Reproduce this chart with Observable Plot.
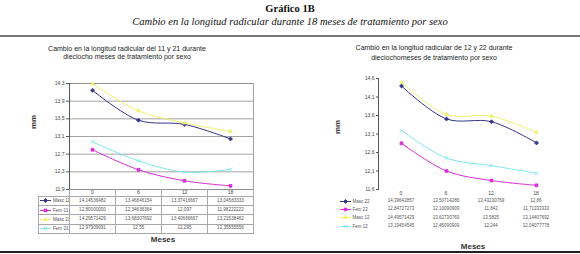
<!DOCTYPE html>
<html><head><meta charset="utf-8">
<script src="https://cdn.jsdelivr.net/npm/d3@7"></script>
<script src="https://cdn.jsdelivr.net/npm/@observablehq/plot@0.6"></script>
<style>
body{margin:0;background:#fff;}
#page{position:relative;width:580px;height:254px;overflow:hidden;font-family:"Liberation Sans",Arial,sans-serif;color:#222;}
.abs{position:absolute;white-space:nowrap;}
.ctr{transform:translate(-50%,-50%);}
table.t{position:absolute;border-collapse:collapse;table-layout:fixed;font-family:"Liberation Sans",Arial,sans-serif;}
table.t td{padding:0;text-align:center;white-space:nowrap;overflow:hidden;line-height:1;}
</style></head><body><div id="page"></div>
<script>
// ---- data ----
const months = ["0", "6", "12", "18"];
const leftSeries = ["Masc 11", "Fem 11", "Masc 21", "Fem 21"];
const masc11 = ["14,14536482", "13,46846154", "13,37416667", "13,04583333"];
const fem11  = ["12,80000000", "12,34636364", "12,097", "11,98222222"];
const masc21 = ["14,29571429", "13,68307692", "13,40666667", "13,21538462"];
const fem21  = ["12,97909091", "12,55", "12,295", "12,35555556"];
const rightSeries = ["Masc 22", "Fem 22", "Masc 12", "Fem 12"];
const masc22 = ["14,39642857", "13,50714286", "13,43230769", "12,86"];
const fem22  = ["12,84727273", "12,10090909", "11,842", "11,71333333"];
const masc12 = ["14,49571429", "13,62730769", "13,5825", "13,14407692"];
const fem12  = ["13,19454545", "12,45090909", "12,244", "12,04077778"];
const leftTicks  = [11.9, 12.3, 12.7, 13.1, 13.5, 13.9, 14.3];
const rightTicks = [11.6, 12.1, 12.6, 13.1, 13.6, 14.1, 14.6];

const colors  = ["#34348a", "#d92ed9", "#f0f070", "#7fe6ee"];
const symbols = ["diamond2", "square2", "triangle2", "times"];
const d3sym   = [d3.symbolDiamond2, d3.symbolSquare2, d3.symbolTriangle2, d3.symbolTimes];

const num = s => +s.replace(",", ".");
const fmt1 = d => d.toFixed(1).replace(".", ",");
function toLong(names, arrays) {
  const out = [];
  names.forEach((n, i) => arrays[i].forEach((v, j) => out.push({series: n, month: months[j], value: num(v)})));
  return out;
}
const leftData = toLong(leftSeries, [masc11, fem11, masc21, fem21]);
const rightData = toLong(rightSeries, [masc22, fem22, masc12, fem12]);

const page = document.getElementById("page");
function addText(txt, x, y, style) {
  const d = document.createElement("div");
  d.className = "abs ctr";
  d.textContent = txt;
  d.style.left = x + "px"; d.style.top = y + "px";
  Object.assign(d.style, style || {});
  page.appendChild(d);
  return d;
}
function addRule(y, h, color) {
  const d = document.createElement("div");
  d.className = "abs";
  Object.assign(d.style, {left: "0px", top: y + "px", width: "580px", height: h + "px", background: color});
  page.appendChild(d);
}

// headings
addText("Gráfico 1B", 290, 8, {fontFamily: "'Liberation Serif',serif", fontWeight: "bold", fontSize: "10.5px", color: "#111"});
addText("Cambio en la longitud radicular durante 18 meses de tratamiento por sexo", 290, 21, {fontFamily: "'Liberation Serif',serif", fontStyle: "italic", fontSize: "10.5px", color: "#111"});
addRule(35, 2, "#7a7a7a");
addRule(251, 2, "#222");

function makeChart(cfg) {
  const chart = Plot.plot({
    width: cfg.w, height: cfg.h,
    marginLeft: cfg.ml, marginRight: cfg.mr, marginTop: cfg.mt, marginBottom: cfg.mb,
    style: {fontFamily: "'Liberation Sans',Arial,sans-serif", fontSize: "5px", color: "#333", background: "transparent"},
    x: {type: "point", domain: months, padding: 0.5, axis: null},
    y: {domain: cfg.ydom, axis: null},
    color: {domain: cfg.series, range: colors},
    symbol: {domain: cfg.series, range: symbols},
    marks: [
      cfg.grid ? Plot.ruleY(cfg.ticks, {stroke: "#8c8c8c", strokeWidth: 0.8}) : null,
      cfg.grid ? Plot.frame({stroke: "#8c8c8c", strokeWidth: 0.8}) : null,
      Plot.frame({anchor: "left", stroke: cfg.grid ? "#444" : "#555", strokeWidth: cfg.grid ? 0.8 : 1}),
      Plot.axisY(cfg.ticks, {tickSize: cfg.tickSize, tickPadding: 2, tickFormat: fmt1, label: null, stroke: "#555", fill: "#444"}),
      Plot.line(cfg.data, {x: "month", y: "value", z: "series", stroke: "series", strokeWidth: 1, curve: "catmull-rom"}),
      Plot.dot(cfg.data, {x: "month", y: "value", symbol: "series", fill: "series", stroke: "series", strokeWidth: 0.8, r: 1.8})
    ]
  });
  chart.style.position = "absolute";
  chart.style.left = cfg.left + "px";
  chart.style.top = cfg.top + "px";
  page.appendChild(chart);
  return chart;
}

function keySvg(i) {
  const s = d3.create("svg").attr("width", 14).attr("height", 5).style("vertical-align", "middle");
  s.append("line").attr("x1", 1).attr("x2", 12).attr("y1", 2.5).attr("y2", 2.5).attr("stroke", colors[i]).attr("stroke-width", 1);
  s.append("path").attr("transform", "translate(6.5,2.5)").attr("d", d3.symbol(d3sym[i], 10)())
    .attr("fill", colors[i]).attr("stroke", colors[i]).attr("stroke-width", 0.8);
  return s.node();
}

function makeTable(chart, cfg, series, arrays) {
  const xs = chart.scale("x");
  const step = xs.apply(months[1]) - xs.apply(months[0]);
  const x0 = cfg.left + xs.apply(months[0]) - step / 2;
  const t = document.createElement("table");
  t.className = "t";
  t.style.left = (x0 - cfg.legendW) + "px";
  t.style.top = cfg.tableTop + "px";
  t.style.width = (cfg.legendW + step * months.length) + "px";
  const bd = cfg.border ? "0.8px solid #a8a8a8" : "none";
  const cg = document.createElement("colgroup");
  [cfg.legendW, ...months.map(() => step)].forEach(w => { const c = document.createElement("col"); c.style.width = w + "px"; cg.appendChild(c); });
  t.appendChild(cg);
  const hr = document.createElement("tr");
  hr.appendChild(document.createElement("td"));
  months.forEach(m => { const td = document.createElement("td"); td.textContent = m; hr.appendChild(td); });
  [...hr.children].forEach((td, k) => { td.style.height = cfg.headH + "px"; td.style.fontSize = "5px"; td.style.color = "#444"; if (k > 0) td.style.borderLeft = bd; });
  t.appendChild(hr);
  series.forEach((name, i) => {
    const tr = document.createElement("tr");
    const lt = document.createElement("td");
    lt.style.textAlign = "left";
    lt.appendChild(keySvg(i));
    const sp = document.createElement("span"); sp.textContent = name; lt.appendChild(sp);
    tr.appendChild(lt);
    arrays[i].forEach(v => { const td = document.createElement("td"); td.textContent = v; tr.appendChild(td); });
    [...tr.children].forEach(td => { td.style.height = cfg.rowH + "px"; td.style.fontSize = cfg.fs + "px"; td.style.color = "#555"; td.style.border = bd; });
    t.appendChild(tr);
  });
  if (cfg.border) { [...hr.children].slice(1).forEach(td => { td.style.borderRight = bd; }); }
  page.appendChild(t);
}

// ---- left chart ----
const L = {left: 20, top: 60, w: 240, h: 140, ml: 49, mr: 7, mt: 23, mb: 11, ydom: [11.9, 14.3], ticks: leftTicks, grid: true, tickSize: 3, series: leftSeries, data: leftData,
  legendW: 31, tableTop: 189, headH: 7, rowH: 8.2, fs: 4.6, border: true};
const lc = makeChart(L);
makeTable(lc, L, leftSeries, [masc11, fem11, masc21, fem21]);
addText("Cambio en la longitud radicular del 11 y 21 durante", 127, 48, {fontSize: "7px", color: "#222"});
addText("dieciocho meses de tratamiento por sexo", 127, 56, {fontSize: "7px", color: "#222"});
addText("mm", 33, 122, {fontSize: "8px", fontWeight: "bold", transform: "translate(-50%,-50%) rotate(-90deg)", color: "#333"});
addText("Meses", 163, 239, {fontSize: "8px", fontWeight: "bold", color: "#333"});

// ---- right chart ----
const R = {left: 300, top: 60, w: 270, h: 140, ml: 78, mr: 12, mt: 18, mb: 11, ydom: [11.6, 14.6], ticks: rightTicks, grid: false, tickSize: 2, series: rightSeries, data: rightData,
  legendW: 40, tableTop: 190, headH: 7, rowH: 8.4, fs: 4.5, border: false};
const rc = makeChart(R);
makeTable(rc, R, rightSeries, [masc22, fem22, masc12, fem12]);
addText("Cambio en la longitud radicular de 12 y 22 durante", 434, 47, {fontSize: "7px", color: "#222"});
addText("dieciochomeses de tratamiento por sexo", 434, 57, {fontSize: "7px", color: "#222"});
addText("mm", 337, 127, {fontSize: "8px", fontWeight: "bold", transform: "translate(-50%,-50%) rotate(-90deg)", color: "#333"});
addText("Meses", 473, 246, {fontSize: "8px", fontWeight: "bold", color: "#333"});
</script></body></html>
